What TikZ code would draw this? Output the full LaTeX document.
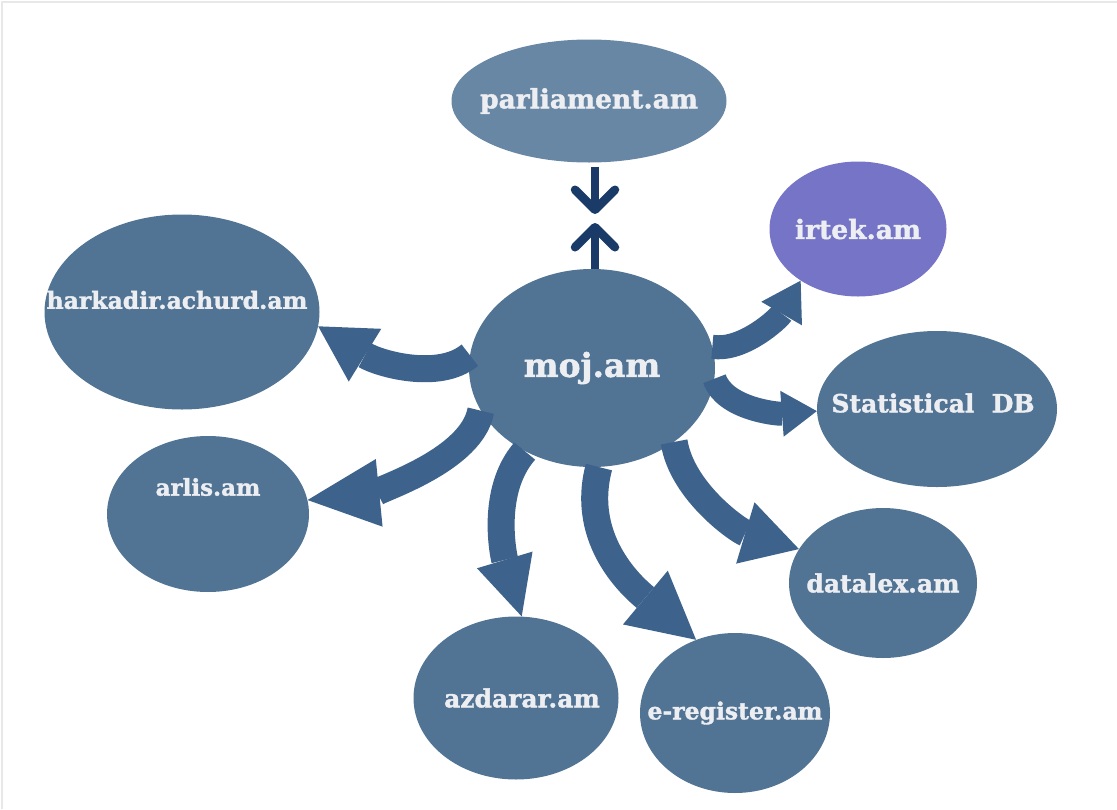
\documentclass[tikz,border=0pt]{standalone}
\usepackage{fontspec}
\setmainfont{DejaVu Serif}
\newfontfamily\sitefont[FakeBold=1.5]{DejaVu Serif Bold}
\usetikzlibrary{arrows.meta,shapes.geometric}

\definecolor{sitefill}{RGB}{82,116,148}
\definecolor{parlfill}{RGB}{104,135,165}
\definecolor{irtekfill}{RGB}{118,116,198}
\definecolor{flowblue}{RGB}{61,99,140}
\definecolor{linknavy}{RGB}{26,58,104}
\definecolor{sitetext}{RGB}{236,238,242}
\definecolor{framegray}{RGB}{232,232,232}

\begin{document}
\begin{tikzpicture}[x=1pt,y=-1pt]
  \tikzset{
    site/.style 2 args={ellipse, fill=sitefill, draw=none, inner sep=0pt,
      minimum width=#1, minimum height=#2},
    sitename/.style={text=sitetext, font=\sitefont\fontsize{25}{30}\selectfont},
    flow/.style 2 args={draw=flowblue, line width=27pt,
      -{Triangle[length=#1, width=#2, line width=0pt]}},
    link/.style={draw=linknavy, line width=8.5pt,
      -{Straight Barb[length=20pt, width=40pt, round]}}
  }
  \useasboundingbox (0,0) rectangle (1117,809);
  \draw[framegray, line width=2pt] (2,809) -- (2,2) -- (1117,2);

  \node[site={275}{123}, fill=parlfill, label={[sitename, font=\sitefont\fontsize{26.5}{30}\selectfont]center:parliament.am}] (parliament) at (589,101) {};
  \node[site={177}{135}, fill=irtekfill, label={[sitename, font=\sitefont\fontsize{26.5}{30}\selectfont]center:irtek.am}] (irtek) at (858,229) {};
  \node[site={275}{195}, label={[sitename, font=\sitefont\fontsize{23.5}{28}\selectfont, xshift=-5pt, yshift=12pt]center:harkadir.achurd.am}] (harkadir) at (182,312) {};
  \node[site={246}{198}, label={[sitename, font=\sitefont\fontsize{33}{38}\selectfont]center:moj.am}] (moj) at (592,368) {};
  \node[site={240}{156}, label={[sitename, xshift=-4pt, yshift=6pt]center:Statistical~~DB}] (statdb) at (937,409) {};
  \node[site={202}{156}, label={[sitename, font=\sitefont\fontsize{23}{28}\selectfont, yshift=27pt]center:arlis.am}] (arlis) at (208,514) {};
  \node[site={188}{150}, label={[sitename]center:datalex.am}] (datalex) at (883,583) {};
  \node[site={205}{163}, label={[sitename, xshift=6pt]center:azdarar.am}] (azdarar) at (516,698) {};
  \node[site={190}{160}, label={[sitename, font=\sitefont\fontsize{23.5}{28}\selectfont]center:e-register.am}] (eregister) at (735,713) {};

  % link to parliament
  \coordinate (pin) at (595,214);
  \coordinate (pout) at (595,223);
  \draw[link, shorten <=4pt] (parliament.south -| pin) -- (pin);
  \draw[link] (moj.north -| pout) -- (pout);

  % data flows out of moj.am
  \draw[flow={55pt}{62pt}] (moj.174) .. controls +(-31,26) and +(60,37) .. (harkadir.-6);
  \draw[flow={72pt}{68pt}] (moj.201) .. controls +(-10,55) and +(50,-5) .. (arlis.8);
  \draw[flow={59pt}{58pt}] (moj.231) .. controls +(-35,40) and +(-18,-60) .. (azdarar.86);
  \draw[flow={66pt}{70pt}] (moj.274) .. controls +(-20,75) and +(-60,-50) .. (eregister.118);
  \draw[flow={56pt}{64pt}] (moj.-42) .. controls +(8,50) and +(-60,-18) .. (datalex.158);
  \draw[flow={35pt}{46pt}, line width=24pt] (moj.-5) .. controls +(10,30) and +(-40,3) .. (statdb.181);
  \draw[flow={38pt}{47pt}, line width=24pt] (moj.10) .. controls +(30,5) and +(-22,38) .. (irtek.222);
\end{tikzpicture}
\end{document}
